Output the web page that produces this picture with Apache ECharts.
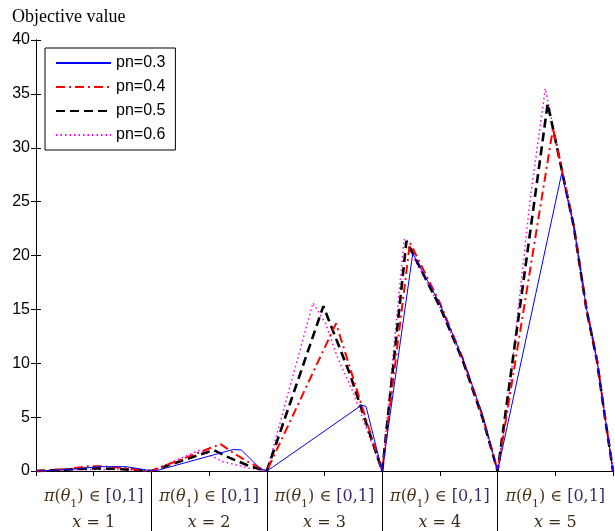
<!DOCTYPE html>
<html>
<head>
<meta charset="utf-8">
<script src="https://cdn.jsdelivr.net/npm/echarts@6/dist/echarts.min.js"></script>
<style>
html,body{margin:0;padding:0;background:#fff;}
#chart{width:615px;height:531px;}
</style>
</head>
<body>
<div id="chart"></div>
<script>
// ---- data ----
const seriesNames = ['pn=0.3', 'pn=0.4', 'pn=0.5', 'pn=0.6'];
const segmentLabels = ['x = 1', 'x = 2', 'x = 3', 'x = 4', 'x = 5'];
const segmentRange = '[0,1]';
const yTicks = [0, 5, 10, 15, 20, 25, 30, 35, 40];

const pn03X = [0, 0.3, 0.55, 0.78, 1.0, 1.05, 1.71, 1.78, 1.94, 2.0, 2.05, 2.82, 2.86, 3.0, 3.265, 3.5, 3.7, 3.87, 4.0, 4.555, 4.66, 4.77, 4.86, 4.93, 5.0];
const pn03Y = [0, 0.15, 0.4, 0.4, 0.02, 0.05, 2.0, 1.95, 0.25, 0, 0.35, 6.1, 6.0, 0, 20.2, 15.5, 10.4, 5.2, 0, 27.6, 22.8, 15.1, 10.4, 5.1, 0];

const pn04X = [0, 0.3, 0.45, 0.55, 0.75, 1.0, 1.6, 1.72, 1.83, 1.97, 2.0, 2.6, 3.0, 3.24, 3.5, 3.7, 3.87, 4.0, 4.48, 4.66, 4.77, 4.86, 4.93, 5.0];
const pn04Y = [0, 0.2, 0.45, 0.45, 0.3, 0, 2.5, 1.6, 0.9, 0.1, 0, 13.7, 0, 21.2, 15.6, 10.4, 5.1, 0, 31.8, 22.8, 15.1, 10.4, 5.1, 0];

const pn05X = [0, 0.3, 0.5, 0.7, 1.0, 1.54, 1.65, 1.85, 2.0, 2.49, 2.72, 3.0, 3.21, 3.5, 3.7, 3.87, 4.0, 4.434, 4.66, 4.77, 4.86, 4.93, 5.0];
const pn05Y = [0, 0.15, 0.25, 0.2, 0, 1.95, 1.35, 0.45, 0, 15.3, 9.0, 0, 21.35, 15.25, 10.2, 4.9, 0, 34.1, 22.7, 15.0, 10.3, 5.0, 0];

const pn06X = [0, 0.4, 0.7, 1.0, 1.42, 1.62, 1.74, 1.85, 2.0, 2.40, 2.51, 2.61, 2.74, 3.0, 3.19, 3.5, 3.7, 3.87, 4.0, 4.08, 4.283, 4.413, 4.66, 4.77, 4.86, 4.93, 5.0];
const pn06Y = [0, 0.12, 0.15, 0, 1.95, 0.86, 0.56, 0.25, 0, 15.6, 13.7, 10.6, 7.5, 0, 21.5, 15.2, 10.2, 4.9, 0, 5.3, 25.3, 35.5, 22.7, 15.0, 10.3, 5.0, 0];

function pairs(xs, ys) { return xs.map((x, i) => [x, ys[i]]); }

const styles = [
  { color: '#0000ff', width: 1, type: 'solid' },
  { color: '#ff0000', width: 2, type: [9, 4, 2, 4] },
  { color: '#000000', width: 2.6, type: [9, 5] },
  { color: '#ff00ff', width: 1.5, type: [1.5, 3] }
];
const dataSets = [pairs(pn03X, pn03Y), pairs(pn04X, pn04Y), pairs(pn05X, pn05Y), pairs(pn06X, pn06Y)];

const chart = echarts.init(document.getElementById('chart'), null, { renderer: 'canvas' });

const axisFont = 'Liberation Sans';
const mathFont = 'DejaVu Serif';
const option = {
  backgroundColor: '#ffffff',
  animation: false,
  title: {
    text: 'Objective value',
    left: 7, top: 3,
    textStyle: { fontFamily: 'Liberation Serif', fontSize: 18, fontWeight: 'normal', color: '#000' }
  },
  legend: {
    orient: 'vertical',
    left: 45, top: 48,
    padding: [7, 10, 7, 10],
    itemWidth: 55, itemHeight: 14, itemGap: 8,
    backgroundColor: '#fff',
    borderColor: '#000', borderWidth: 1,
    borderRadius: 0,
    itemStyle: { opacity: 0 },
    textStyle: { fontFamily: axisFont, fontSize: 16, color: '#000' },
    data: seriesNames
  },
  grid: { left: 36, right: 2, top: 40, bottom: 60, containLabel: false },
  xAxis: [
    {
      type: 'value', min: 0, max: 5, position: 'bottom',
      axisLine: { show: true, lineStyle: { color: '#000', width: 1 } },
      axisTick: { show: true, customValues: [1, 2, 3, 4], length: 62, inside: false, lineStyle: { color: '#000', width: 1 } },
      splitLine: { show: false },
      axisLabel: {
        show: true,
        customValues: [0.5, 1.5, 2.5, 3.5, 4.5],
        margin: 13,
        formatter: function (v) {
          const idx = Math.round(v - 0.5);
          const lbl = segmentLabels[idx];
          const num = lbl.replace('x = ', '');
          return '{it|π}{pi|(}{it|θ}{sub|1}{pi|) ∈ }{br|' + segmentRange + '}\n{xv|x}{eq| = ' + num + '}';
        },
        rich: {
          it: { fontFamily: mathFont, fontStyle: 'italic', fontSize: 16, color: '#4a3218', lineHeight: 26 },
          pi: { fontFamily: mathFont, fontSize: 16, color: '#4a3218', lineHeight: 26 },
          sub: { fontFamily: mathFont, fontSize: 11, color: '#4a3218', verticalAlign: 'bottom', lineHeight: 26, padding: [9, 0, 0, 0] },
          br: { fontFamily: mathFont, fontSize: 16, color: '#3e2a6a', lineHeight: 26 },
          xv: { fontFamily: mathFont, fontStyle: 'italic', fontSize: 16, color: '#3a2a1a', lineHeight: 26 },
          eq: { fontFamily: mathFont, fontSize: 16, color: '#3a2a1a', lineHeight: 26 }
        }
      }
    },
    {
      type: 'value', min: 0, max: 5, interval: 0.5, position: 'top',
      axisLine: { show: true, lineStyle: { color: '#000', width: 1 } },
      axisTick: { show: true, inside: true, length: 5, lineStyle: { color: '#000' } },
      axisLabel: { show: false },
      splitLine: { show: false }
    }
  ],
  yAxis: [
    {
      type: 'value', min: yTicks[0], max: yTicks[yTicks.length - 1], interval: 5, position: 'left',
      axisLine: { show: true, lineStyle: { color: '#000', width: 1 } },
      axisTick: { show: true, inside: true, length: 5, lineStyle: { color: '#000' } },
      axisLabel: { show: true, margin: 6, fontFamily: axisFont, fontSize: 16, color: '#000' },
      splitLine: { show: false }
    },
    {
      type: 'value', min: yTicks[0], max: yTicks[yTicks.length - 1], interval: 5, position: 'right',
      axisLine: { show: true, lineStyle: { color: '#000', width: 1 } },
      axisTick: { show: true, inside: true, length: 5, lineStyle: { color: '#000' } },
      axisLabel: { show: false },
      splitLine: { show: false }
    }
  ],
  series: seriesNames.map((name, i) => ({
    name: name,
    type: 'line',
    xAxisIndex: 0, yAxisIndex: 0,
    data: dataSets[i],
    symbol: 'none',
    showSymbol: false,
    smooth: false,
    clip: false,
    z: 10 - i,
    lineStyle: { color: styles[i].color, width: styles[i].width, type: styles[i].type },
    itemStyle: { color: styles[i].color }
  }))
};
chart.setOption(option);
</script>
</body>
</html>
